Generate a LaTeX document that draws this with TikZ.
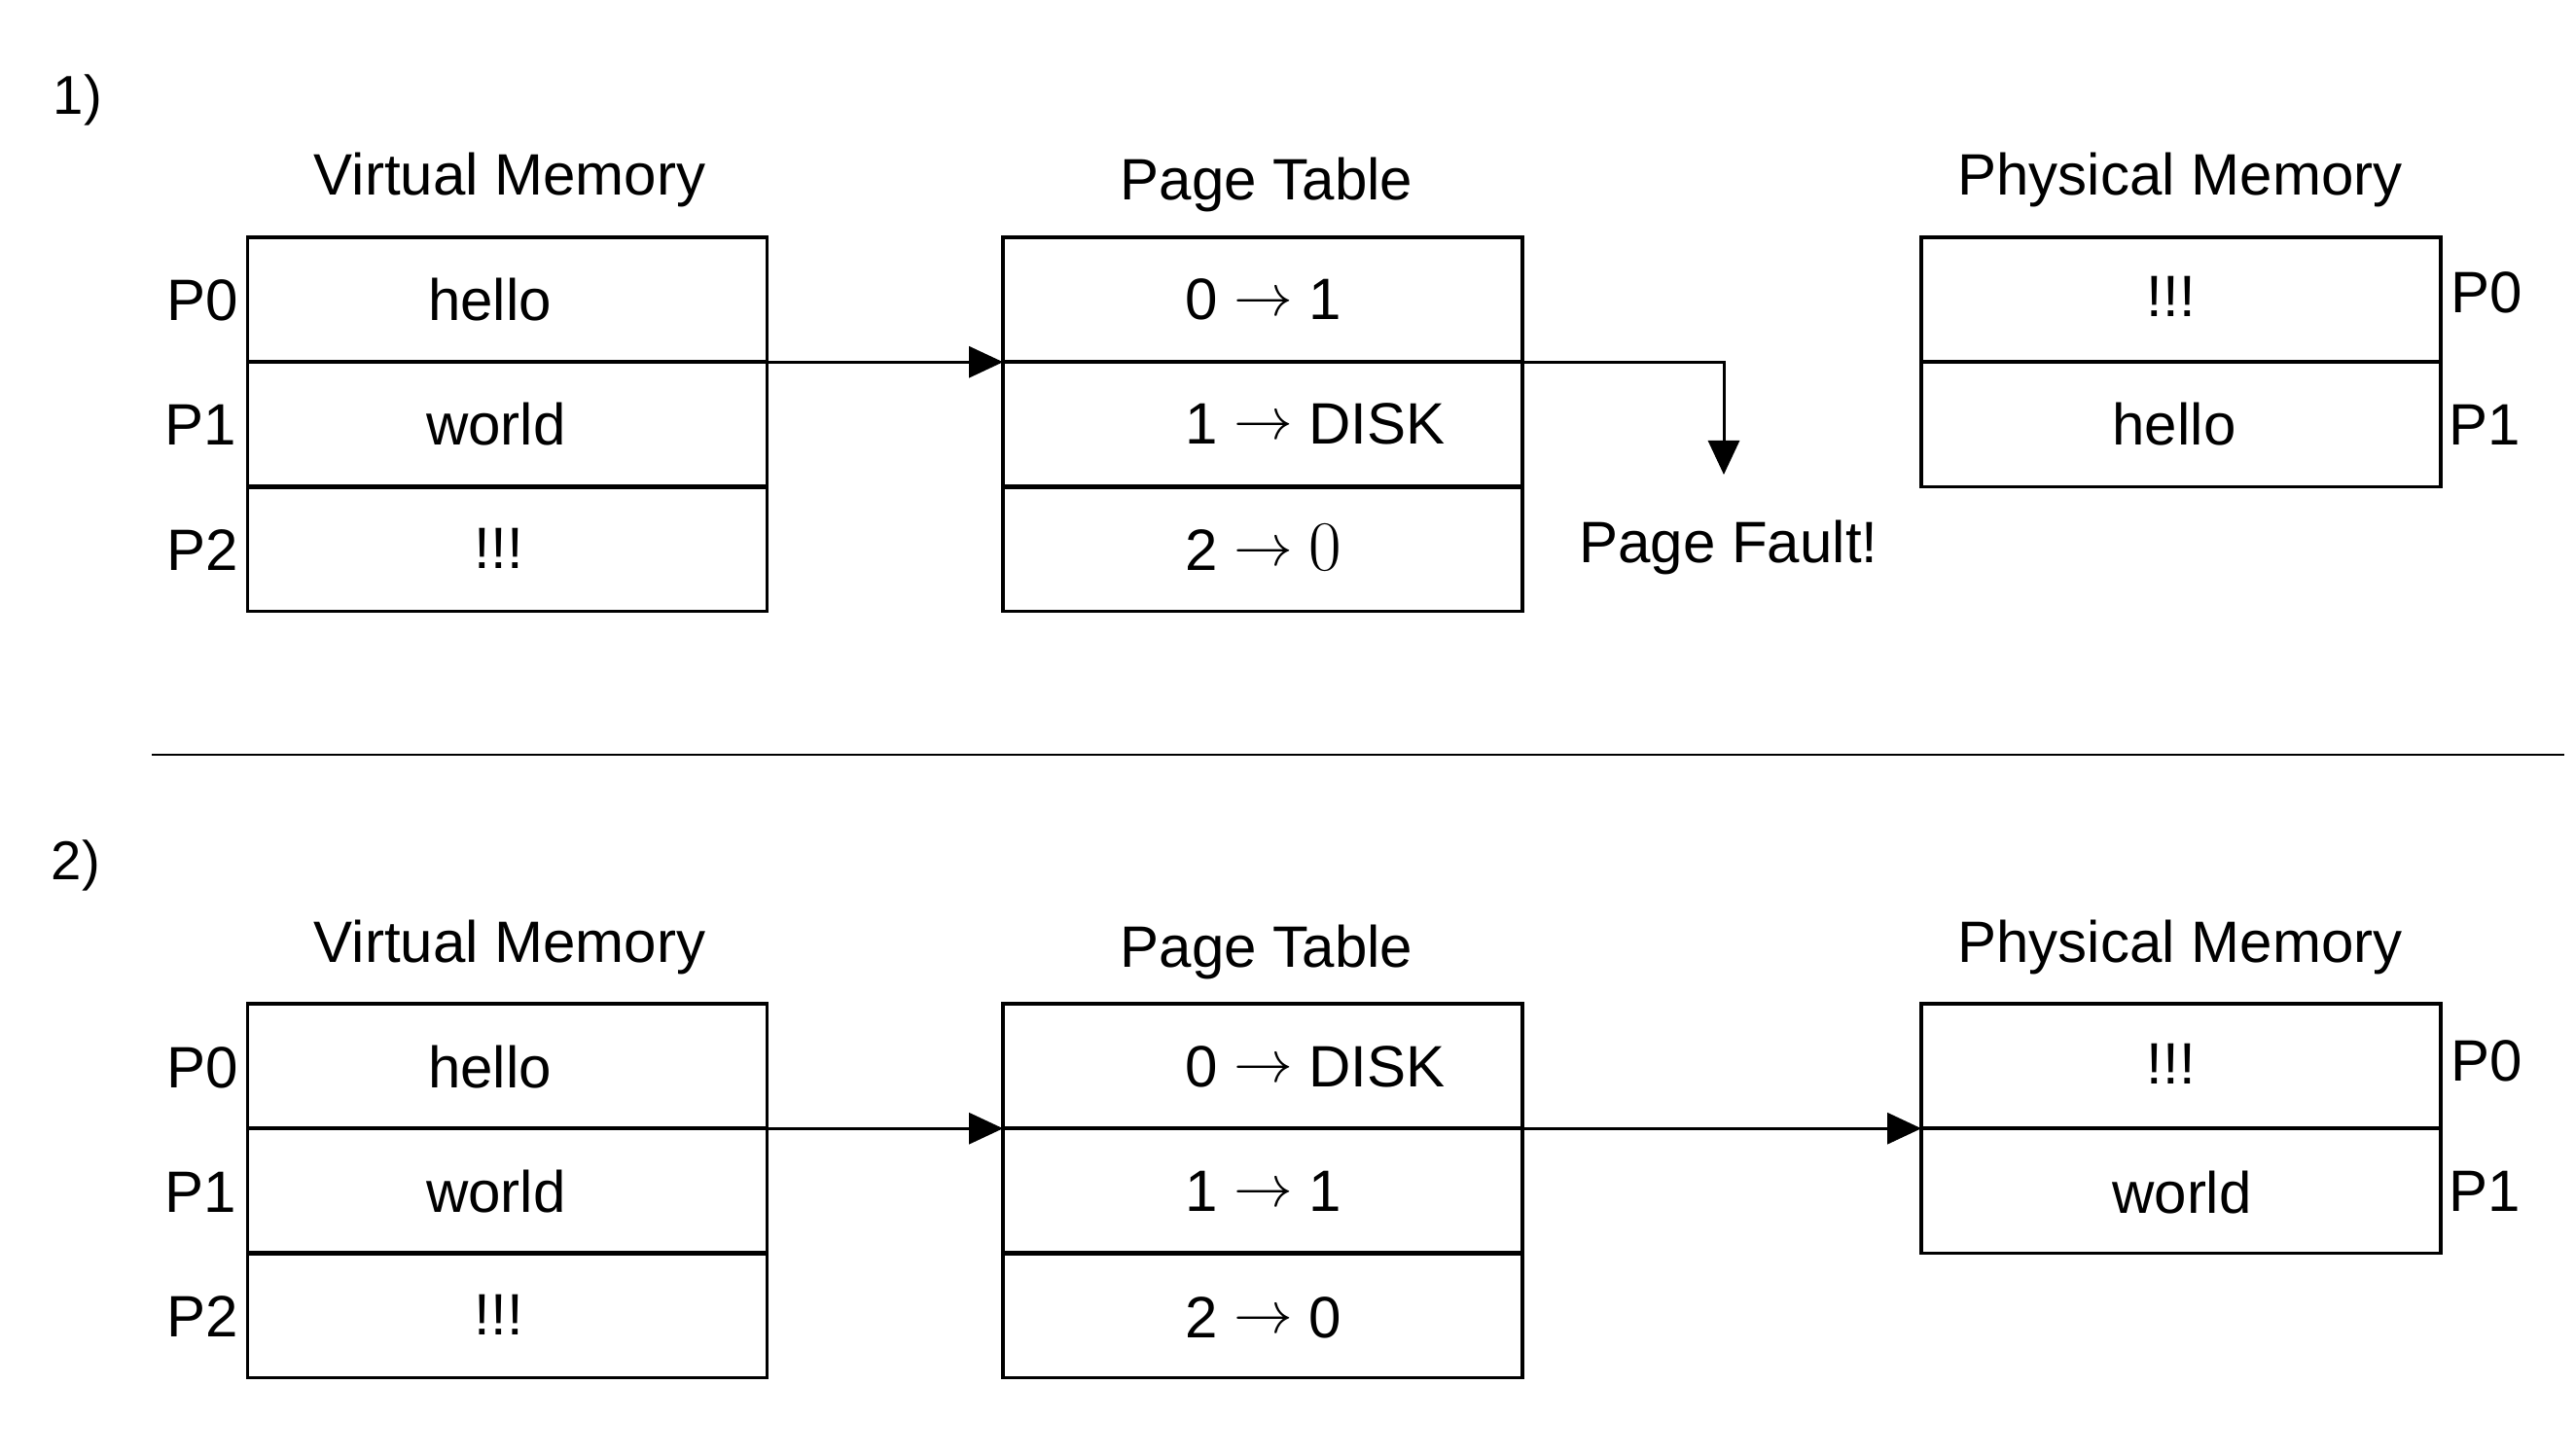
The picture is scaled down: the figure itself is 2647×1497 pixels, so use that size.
\documentclass[tikz,border=0pt]{standalone}
\usepackage{fontspec}
\setmainfont{Liberation Sans}
\usetikzlibrary{arrows.meta}
\newcommand{\pgarr}{\raisebox{1.3pt}{$\rightarrow$}}
\begin{document}
\begin{tikzpicture}[x=0.01cm,y=-0.01cm,
  cell/.style={draw, line width=1.0pt, minimum width=5.335cm, minimum height=1.282cm, inner sep=0pt, outer sep=0pt},
  divider/.style={line width=1.2pt},
  lbl/.style={inner sep=0pt, outer sep=0pt, font=\fontsize{17.07}{20}\selectfont, anchor=base},
  lblw/.style={lbl, anchor=base west},
  numlbl/.style={lbl, font=\fontsize{16}{19}\selectfont},
  conn/.style={line width=0.85pt, -{Triangle[length=3.5mm,width=3.2mm]}},
  sep/.style={line width=0.85pt}]
\useasboundingbox (0,0) rectangle (2647,1497);

% ---------------- Section 1 ----------------
\node[numlbl] (n1) at (80,118) {1)};
\node[lbl] (vmt1) at (524,201) {Virtual Memory};
\node[lbl] (ptt1) at (1302,206) {Page Table};
\node[lbl] (pmt1) at (2241,201) {Physical Memory};

\node[cell] (vm1a) at (521.5,308.1) {};
\node[cell] (vm1b) at (521.5,436.3) {};
\node[cell] (vm1c) at (521.5,564.5) {};
\draw[divider] (vm1a.south west) -- (vm1a.south east);
\draw[divider] (vm1b.south west) -- (vm1b.south east);

\node[cell] (pt1a) at (1298,308.1) {};
\node[cell] (pt1b) at (1298,436.3) {};
\node[cell] (pt1c) at (1298,564.5) {};
\draw[divider] (pt1a.south west) -- (pt1a.south east);
\draw[divider] (pt1b.south west) -- (pt1b.south east);

\node[cell] (pm1a) at (2242,308.1) {};
\node[cell] (pm1b) at (2242,436.3) {};
\draw[divider] (pm1a.south west) -- (pm1a.south east);

\node[lbl] (vp10) at (208,330) {P0};
\node[lbl] (vp11) at (206,458) {P1};
\node[lbl] (vp12) at (208,586) {P2};
\node[lbl] (vh1) at (503.5,330) {hello};
\node[lbl] (vw1) at (510,458) {world};
\node[lbl] (ve1) at (513,584) {!!!};

\node[lblw] (pe10) at (1218,329) {0 \pgarr{} 1};
\node[lblw] (pe11) at (1218,456) {1 \pgarr{} DISK};
\node[lblw] (pe12) at (1218,586) {2 \pgarr{} {\fontsize{19.5}{22}\selectfont$0$}};

\node[lbl] (me10) at (2232,326) {!!!};
\node[lbl] (mh1) at (2235,458) {hello};
\node[lbl] (mp10) at (2556,321) {P0};
\node[lbl] (mp11) at (2554,457) {P1};

\node[lbl] (pf) at (1777,578) {Page Fault!};
\coordinate (pftip) at (1772,488);

\draw[conn] (vm1a.south east) -- (pt1a.south west);
\draw[conn] (pt1a.south east) -| (pftip);

% ---------------- separator ----------------
\coordinate (sepL) at (156,776);
\coordinate (sepR) at (2636,776);
\draw[sep] (sepL) -- (sepR);

% ---------------- Section 2 ----------------
\node[numlbl] (n2) at (78,904) {2)};
\node[lbl] (vmt2) at (524,989) {Virtual Memory};
\node[lbl] (ptt2) at (1302,994) {Page Table};
\node[lbl] (pmt2) at (2241,989) {Physical Memory};

\node[cell] (vm2a) at (521.5,1096.1) {};
\node[cell] (vm2b) at (521.5,1224.3) {};
\node[cell] (vm2c) at (521.5,1352.5) {};
\draw[divider] (vm2a.south west) -- (vm2a.south east);
\draw[divider] (vm2b.south west) -- (vm2b.south east);

\node[cell] (pt2a) at (1298,1096.1) {};
\node[cell] (pt2b) at (1298,1224.3) {};
\node[cell] (pt2c) at (1298,1352.5) {};
\draw[divider] (pt2a.south west) -- (pt2a.south east);
\draw[divider] (pt2b.south west) -- (pt2b.south east);

\node[cell] (pm2a) at (2242,1096.1) {};
\node[cell] (pm2b) at (2242,1224.3) {};
\draw[divider] (pm2a.south west) -- (pm2a.south east);

\node[lbl] (vp20) at (208,1118) {P0};
\node[lbl] (vp21) at (206,1246) {P1};
\node[lbl] (vp22) at (208,1374) {P2};
\node[lbl] (vh2) at (503.5,1118) {hello};
\node[lbl] (vw2) at (510,1246) {world};
\node[lbl] (ve2) at (513,1372) {!!!};

\node[lblw] (pe20) at (1218,1117) {0 \pgarr{} DISK};
\node[lblw] (pe21) at (1218,1245) {1 \pgarr{} 1};
\node[lblw] (pe22) at (1218,1375) {2 \pgarr{} 0};

\node[lbl] (me20) at (2232,1114) {!!!};
\node[lbl] (mw2) at (2243,1247) {world};
\node[lbl] (mp20) at (2556,1111) {P0};
\node[lbl] (mp21) at (2554,1245) {P1};

\draw[conn] (vm2a.south east) -- (pt2a.south west);
\draw[conn] (pt2a.south east) -- (pm2a.south west);
\end{tikzpicture}
\end{document}
